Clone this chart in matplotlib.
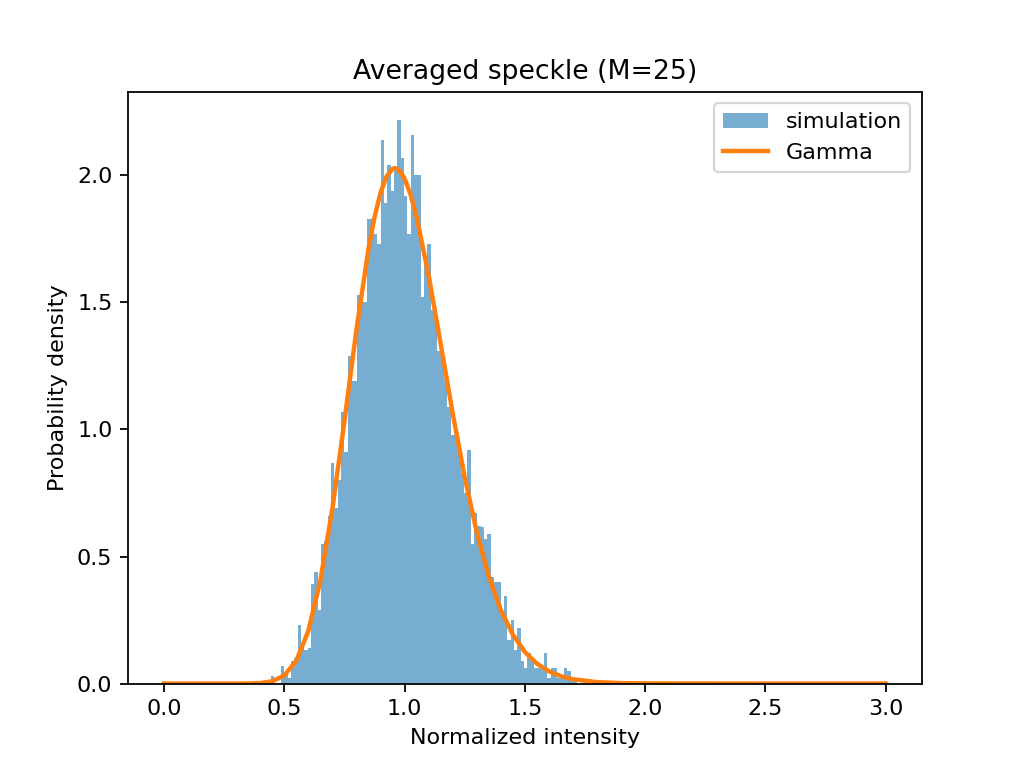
import numpy as np
import matplotlib
matplotlib.use('Agg')
import matplotlib.pyplot as plt

# histogram of the averaged speckle
bin_start = 0.4442
bin_width = 0.01385
density = [0.03, 0.0, 0.0, 0.07, 0.04, 0.02, 0.09, 0.10, 0.23, 0.16,
           0.13, 0.14, 0.39, 0.44, 0.29, 0.55, 0.56, 0.66, 0.87, 0.69,
           0.80, 1.07, 0.91, 1.29, 1.19, 1.19, 1.53, 1.50, 1.50, 1.83,
           1.83, 1.77, 1.73, 2.14, 1.89, 2.04, 1.94, 2.02, 2.217, 2.07,
           1.92, 1.77, 2.16, 2.00, 2.00, 1.52, 1.67, 1.73, 1.47, 1.46,
           1.31, 1.31, 1.20, 1.09, 0.98, 0.98, 0.92, 0.83, 0.75, 0.92,
           0.55, 0.67, 0.62, 0.615, 0.57, 0.59, 0.42, 0.40, 0.40, 0.27,
           0.345, 0.17, 0.25, 0.13, 0.22, 0.09, 0.06, 0.12, 0.10, 0.06,
           0.06, 0.06, 0.12, 0.02, 0.06, 0.06, 0.02, 0.02, 0.06, 0.05,
           0.02, 0.01]

# gamma curve (M=25)
gamma_x = [0.0, 0.2, 0.3, 0.35, 0.4, 0.45, 0.5, 0.55, 0.6, 0.65, 0.7, 0.75,
           0.8, 0.85, 0.875, 0.9, 0.925, 0.95, 0.96, 0.975, 1.0, 1.025, 1.05,
           1.1, 1.15, 1.2, 1.25, 1.3, 1.35, 1.4, 1.45, 1.5, 1.55, 1.6, 1.65,
           1.7, 1.8, 1.9, 2.0, 2.5, 3.0]
gamma_y = [0.0, 0.0, 0.00002, 0.00026, 0.0018, 0.0089, 0.0318, 0.0897, 0.2075,
           0.4059, 0.6886, 1.0332, 1.3932, 1.7101, 1.8356, 1.9317, 1.9957,
           2.0261, 2.0287, 2.0228, 1.9880, 1.9246, 1.8371, 1.6072, 1.3383,
           1.0648, 0.8127, 0.5968, 0.4230, 0.2901, 0.1930, 0.1247, 0.0785,
           0.0482, 0.0289, 0.0169, 0.0055, 0.00165, 0.00046, 0.0, 0.0]


def main():
    n = len(density)
    edges = bin_start + bin_width * np.arange(n + 1)
    centers = (edges[:-1] + edges[1:]) / 2

    fig, ax = plt.subplots(figsize=(6.4, 4.8), dpi=160)
    ax.hist(centers, bins=edges, weights=density, alpha=0.6, label='simulation')
    ax.plot(gamma_x, gamma_y, color='C1', linewidth=2, label='Gamma')
    ax.set_title('Averaged speckle (M=25)')
    ax.set_xlabel('Normalized intensity')
    ax.set_ylabel('Probability density')
    ax.legend(loc='upper right')
    fig.savefig('out.png')


if __name__ == '__main__':
    main()
